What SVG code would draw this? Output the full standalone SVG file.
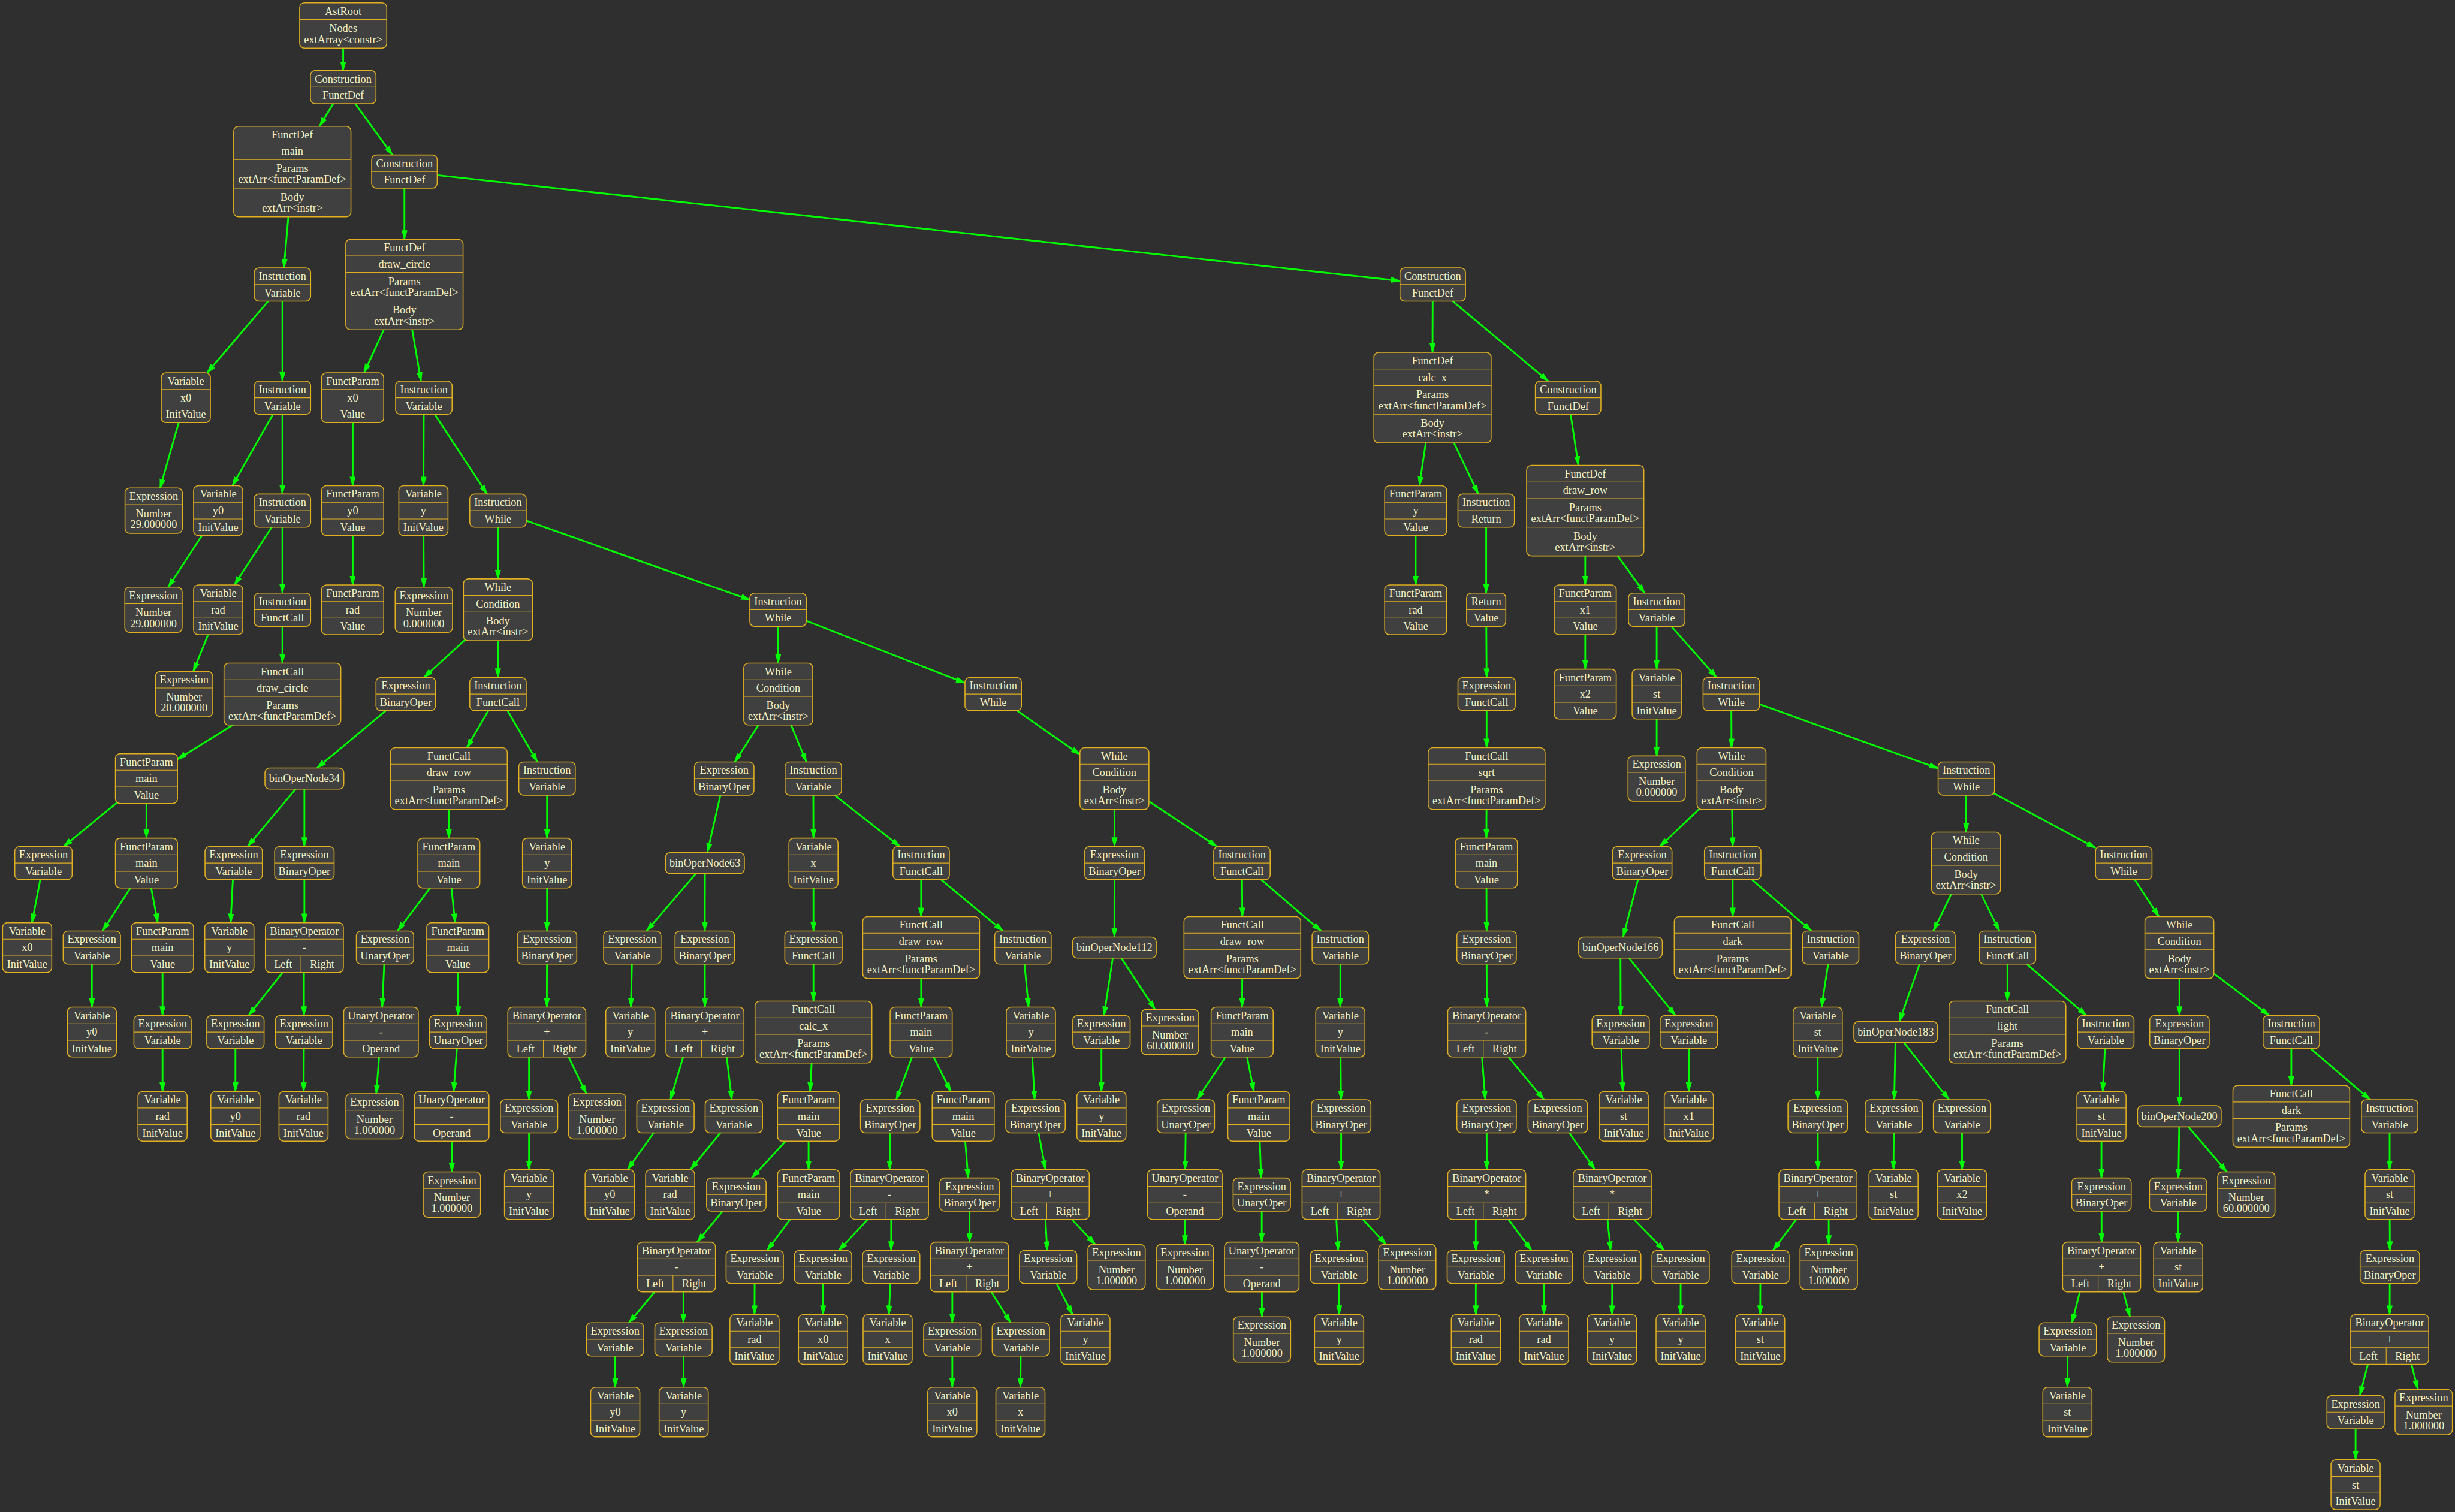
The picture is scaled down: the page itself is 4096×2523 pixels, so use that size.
<svg xmlns="http://www.w3.org/2000/svg" width="4096" height="2523" viewBox="0 0 4096 2523">
<style>
text{font-family:"Liberation Serif","Times New Roman",serif;font-size:25.5px;fill:#f3f1c4;text-anchor:middle}
#edges line{stroke:#00ff00;stroke-width:4;marker-end:url(#ah)}
</style>
<defs>
<marker id="ah" markerUnits="userSpaceOnUse" markerWidth="24" markerHeight="14" viewBox="0 0 24 14" refX="21" refY="7" orient="auto"><path d="M0 0L24 7L0 14z" fill="#00ff00"/></marker>
<g id="tI" fill="#404040" stroke="#e0b020" stroke-width="2.2"><rect x="-65.5" y="-38.5" width="131" height="77" rx="11"/><path d="M-65.5 0H65.5" stroke-width="1.5"/></g>
<g id="tE" fill="#404040" stroke="#e0b020" stroke-width="2.2"><rect x="-66.5" y="-38.5" width="133" height="77" rx="11"/><path d="M-66.5 0H66.5" stroke-width="1.5"/></g>
<g id="tB" fill="#404040" stroke="#e0b020" stroke-width="2.2"><rect x="-69" y="-38.5" width="138" height="77" rx="11"/><path d="M-69 0H69" stroke-width="1.5"/></g>
<g id="tC" fill="#404040" stroke="#e0b020" stroke-width="2.2"><rect x="-76" y="-38.5" width="152" height="77" rx="11"/><path d="M-76 0H76" stroke-width="1.5"/></g>
<g id="tR" fill="#404040" stroke="#e0b020" stroke-width="2.2"><rect x="-45.5" y="-38.5" width="91" height="77" rx="11"/><path d="M-45.5 0H45.5" stroke-width="1.5"/></g>
<g id="tV" fill="#404040" stroke="#e0b020" stroke-width="2.2"><rect x="-57" y="-57.75" width="114" height="115.5" rx="11"/><path d="M-57 -19.25H57M-57 19.25H57" stroke-width="1.5"/></g>
<g id="tP" fill="#404040" stroke="#e0b020" stroke-width="2.2"><rect x="-72" y="-57.75" width="144" height="115.5" rx="11"/><path d="M-72 -19.25H72M-72 19.25H72" stroke-width="1.5"/></g>
<g id="tN" fill="#404040" stroke="#e0b020" stroke-width="2.2"><rect x="-66.5" y="-52.5" width="133" height="105" rx="11"/><path d="M-66.5 -14H66.5" stroke-width="1.5"/></g>
<g id="tA" fill="#404040" stroke="#e0b020" stroke-width="2.2"><rect x="-101" y="-52.5" width="202" height="105" rx="11"/><path d="M-101 -14H101" stroke-width="1.5"/></g>
<g id="tD" fill="#404040" stroke="#e0b020" stroke-width="2.2"><rect x="-136" y="-105" width="272" height="210" rx="11"/><path d="M-136 -66.5H136M-136 -28H136M-136 38.5H136" stroke-width="1.5"/></g>
<g id="tF" fill="#404040" stroke="#e0b020" stroke-width="2.2"><rect x="-135.5" y="-71.75" width="271" height="143.5" rx="11"/><path d="M-135.5 -33.25H135.5M-135.5 5.25H135.5" stroke-width="1.5"/></g>
<g id="tW" fill="#404040" stroke="#e0b020" stroke-width="2.2"><rect x="-80" y="-71.75" width="160" height="143.5" rx="11"/><path d="M-80 -33.25H80M-80 5.25H80" stroke-width="1.5"/></g>
<g id="tO" fill="#404040" stroke="#e0b020" stroke-width="2.2"><rect x="-90.5" y="-57.75" width="181" height="115.5" rx="11"/><path d="M-90.5 -19.25H90.5M-90.5 19.25H90.5M-8 19.25V57.75" stroke-width="1.5"/></g>
<g id="tU" fill="#404040" stroke="#e0b020" stroke-width="2.2"><rect x="-86.5" y="-57.75" width="173" height="115.5" rx="11"/><path d="M-86.5 -19.25H86.5M-86.5 19.25H86.5" stroke-width="1.5"/></g>
<g id="tX" fill="#404040" stroke="#e0b020" stroke-width="2.2"><rect x="-91.5" y="-24.5" width="183" height="49" rx="11"/></g>
<g id="tY" fill="#404040" stroke="#e0b020" stroke-width="2.2"><rect x="-97" y="-24.5" width="194" height="49" rx="11"/></g>
</defs>
<rect width="4096" height="2523" fill="#2f2f2f"/>
<g transform="scale(0.71935)">
<g id="edges">
<line x1="796" y1="59" x2="796" y2="163.5"/>
<line x1="796" y1="202" x2="741.2" y2="293"/>
<line x1="796" y1="202" x2="910.1" y2="359.5"/>
<line x1="678" y1="398" x2="658.4" y2="621.5"/>
<line x1="938" y1="398" x2="938" y2="555"/>
<line x1="938" y1="398" x2="3247" y2="651.6"/>
<line x1="655" y1="660" x2="480.3" y2="864.75"/>
<line x1="655" y1="660" x2="655" y2="884"/>
<line x1="938" y1="660" x2="844.4" y2="864.75"/>
<line x1="938" y1="660" x2="976.4" y2="884"/>
<line x1="3323" y1="660" x2="3322.5" y2="817.5"/>
<line x1="3323" y1="660" x2="3591" y2="884"/>
<line x1="431" y1="922.5" x2="371.4" y2="1132"/>
<line x1="655" y1="922.5" x2="538.8" y2="1126.75"/>
<line x1="655" y1="922.5" x2="655" y2="1146"/>
<line x1="818" y1="922.5" x2="818" y2="1126.75"/>
<line x1="983" y1="922.5" x2="982.2" y2="1126.75"/>
<line x1="983" y1="922.5" x2="1129.7" y2="1146"/>
<line x1="3322.5" y1="922.5" x2="3292.1" y2="1126.75"/>
<line x1="3322.5" y1="922.5" x2="3428.7" y2="1146"/>
<line x1="3637" y1="922.5" x2="3660.8" y2="1079.5"/>
<line x1="506" y1="1184.5" x2="390.2" y2="1362"/>
<line x1="655" y1="1184.5" x2="543.4" y2="1356.75"/>
<line x1="655" y1="1184.5" x2="655" y2="1376"/>
<line x1="818" y1="1184.5" x2="818" y2="1356.75"/>
<line x1="982" y1="1184.5" x2="983" y2="1362"/>
<line x1="1155" y1="1184.5" x2="1155" y2="1342.75"/>
<line x1="1155" y1="1184.5" x2="1739" y2="1391.3"/>
<line x1="3283.5" y1="1184.5" x2="3283.5" y2="1356.75"/>
<line x1="3447" y1="1184.5" x2="3447" y2="1376"/>
<line x1="3676.7" y1="1184.5" x2="3676.7" y2="1356.75"/>
<line x1="3676.7" y1="1184.5" x2="3814.7" y2="1376"/>
<line x1="506" y1="1414.5" x2="448.2" y2="1557.5"/>
<line x1="655" y1="1414.5" x2="655" y2="1538.25"/>
<line x1="1155" y1="1414.5" x2="983.1" y2="1571.5"/>
<line x1="1155" y1="1414.5" x2="1155" y2="1571.5"/>
<line x1="1804.5" y1="1414.5" x2="1805" y2="1538.25"/>
<line x1="1804.5" y1="1414.5" x2="2238.1" y2="1584.3"/>
<line x1="3447" y1="1414.5" x2="3448" y2="1571.5"/>
<line x1="3676.7" y1="1414.5" x2="3676.7" y2="1552.25"/>
<line x1="3842.5" y1="1414.5" x2="3842.5" y2="1552.25"/>
<line x1="3842.5" y1="1414.5" x2="3981.4" y2="1571.5"/>
<line x1="655" y1="1610" x2="411.7" y2="1761.2"/>
<line x1="941" y1="1610" x2="735.4" y2="1781.5"/>
<line x1="1155" y1="1610" x2="1082.7" y2="1734.25"/>
<line x1="1155" y1="1610" x2="1246.4" y2="1767.5"/>
<line x1="1805" y1="1610" x2="1704.3" y2="1767.5"/>
<line x1="1805" y1="1610" x2="1870.3" y2="1767.5"/>
<line x1="2303.6" y1="1610" x2="2504.7" y2="1750.2"/>
<line x1="3448" y1="1610" x2="3448" y2="1734.25"/>
<line x1="3842.5" y1="1610" x2="3842.5" y2="1753.5"/>
<line x1="4015.5" y1="1610" x2="4016" y2="1734.25"/>
<line x1="4015.5" y1="1610" x2="4495.1" y2="1782.4"/>
<line x1="339.7" y1="1806" x2="147.7" y2="1963.5"/>
<line x1="339.7" y1="1806" x2="339.7" y2="1944.25"/>
<line x1="706" y1="1806" x2="574.2" y2="1963.5"/>
<line x1="706" y1="1806" x2="706" y2="1963.5"/>
<line x1="1041" y1="1806" x2="1041" y2="1944.25"/>
<line x1="1268.8" y1="1806" x2="1268.8" y2="1944.25"/>
<line x1="1679.7" y1="1806" x2="1640.6" y2="1977.5"/>
<line x1="1886.3" y1="1806" x2="1886.7" y2="1944.25"/>
<line x1="1886.3" y1="1806" x2="2087.4" y2="1963.5"/>
<line x1="2584.7" y1="1806" x2="2585" y2="1963.5"/>
<line x1="2584.7" y1="1806" x2="2822.4" y2="1963.5"/>
<line x1="3448" y1="1806" x2="3447.5" y2="1944.25"/>
<line x1="4016" y1="1806" x2="3849.7" y2="1963.5"/>
<line x1="4016" y1="1806" x2="4018.7" y2="1963.5"/>
<line x1="4560.6" y1="1806" x2="4560" y2="1930.25"/>
<line x1="4560.6" y1="1806" x2="4860.2" y2="1966.8"/>
<line x1="100.8" y1="2002" x2="74.1" y2="2140.25"/>
<line x1="339.7" y1="2002" x2="237.9" y2="2159.5"/>
<line x1="339.7" y1="2002" x2="366" y2="2140.25"/>
<line x1="542" y1="2002" x2="534.9" y2="2140.25"/>
<line x1="706" y1="2002" x2="706" y2="2140.25"/>
<line x1="1041" y1="2002" x2="922.1" y2="2159.5"/>
<line x1="1041" y1="2002" x2="1055.6" y2="2140.25"/>
<line x1="1268.8" y1="2002" x2="1268.8" y2="2159.5"/>
<line x1="1635" y1="2002" x2="1499.6" y2="2159.5"/>
<line x1="1635" y1="2002" x2="1634.7" y2="2159.5"/>
<line x1="1886.7" y1="2002" x2="1886.7" y2="2159.5"/>
<line x1="2136.5" y1="2002" x2="2136.5" y2="2126.25"/>
<line x1="2136.5" y1="2002" x2="2326.2" y2="2159.5"/>
<line x1="2585" y1="2002" x2="2584.7" y2="2173.5"/>
<line x1="2880.5" y1="2002" x2="2881.5" y2="2126.25"/>
<line x1="2880.5" y1="2002" x2="3063.9" y2="2159.5"/>
<line x1="3447.5" y1="2002" x2="3448" y2="2159.5"/>
<line x1="3809" y1="2002" x2="3764.8" y2="2173.5"/>
<line x1="4018.7" y1="2002" x2="4018.7" y2="2126.25"/>
<line x1="4018.7" y1="2002" x2="4201.4" y2="2159.5"/>
<line x1="4560" y1="2002" x2="4484.2" y2="2159.5"/>
<line x1="4560" y1="2002" x2="4637.1" y2="2159.5"/>
<line x1="4925.7" y1="2002" x2="5007.5" y2="2126.25"/>
<line x1="213" y1="2198" x2="213" y2="2336.25"/>
<line x1="377" y1="2198" x2="377" y2="2355.5"/>
<line x1="655.5" y1="2255.75" x2="576.5" y2="2355.5"/>
<line x1="705" y1="2255.75" x2="705" y2="2355.5"/>
<line x1="893" y1="2198" x2="886.4" y2="2336.25"/>
<line x1="1061.7" y1="2198" x2="1062.6" y2="2355.5"/>
<line x1="1268.8" y1="2198" x2="1268.3" y2="2336.25"/>
<line x1="1466.5" y1="2198" x2="1463.3" y2="2336.25"/>
<line x1="1634.7" y1="2198" x2="1635" y2="2336.25"/>
<line x1="1886.7" y1="2198" x2="1886.7" y2="2322.25"/>
<line x1="2136.5" y1="2198" x2="2136.5" y2="2336.25"/>
<line x1="2372.6" y1="2198" x2="2385.6" y2="2336.25"/>
<line x1="2584.7" y1="2198" x2="2560.6" y2="2355.5"/>
<line x1="2584.7" y1="2198" x2="2679.1" y2="2341.5"/>
<line x1="2881.5" y1="2198" x2="2881" y2="2336.25"/>
<line x1="3108.7" y1="2198" x2="3108.7" y2="2336.25"/>
<line x1="3448" y1="2198" x2="3448.3" y2="2336.25"/>
<line x1="3758.5" y1="2198" x2="3759" y2="2355.5"/>
<line x1="3758.5" y1="2198" x2="3885.9" y2="2355.5"/>
<line x1="4246" y1="2198" x2="4224.8" y2="2336.25"/>
<line x1="4465.7" y1="2198" x2="4405.3" y2="2369.5"/>
<line x1="4656" y1="2198" x2="4656" y2="2322.25"/>
<line x1="4656" y1="2198" x2="4839.2" y2="2355.5"/>
<line x1="5054.7" y1="2198" x2="5055" y2="2355.5"/>
<line x1="5054.7" y1="2198" x2="5263.4" y2="2355.5"/>
<line x1="377" y1="2394" x2="377" y2="2531.75"/>
<line x1="546" y1="2394" x2="546" y2="2531.75"/>
<line x1="705" y1="2394" x2="704.3" y2="2531.75"/>
<line x1="883.7" y1="2394" x2="872.7" y2="2537"/>
<line x1="1062.6" y1="2394" x2="1052" y2="2531.75"/>
<line x1="1227" y1="2451.75" x2="1227" y2="2551"/>
<line x1="1318.8" y1="2451.75" x2="1359.8" y2="2537"/>
<line x1="1584.5" y1="2451.75" x2="1554.9" y2="2551"/>
<line x1="1685.5" y1="2451.75" x2="1697.4" y2="2551"/>
<line x1="1886.7" y1="2394" x2="1878.7" y2="2531.75"/>
<line x1="2136.5" y1="2394" x2="2078.8" y2="2551"/>
<line x1="2136.5" y1="2394" x2="2205.2" y2="2531.75"/>
<line x1="2391" y1="2394" x2="2399.6" y2="2551"/>
<line x1="2554.7" y1="2394" x2="2554.7" y2="2531.75"/>
<line x1="2881" y1="2394" x2="2776.1" y2="2551"/>
<line x1="2881" y1="2394" x2="2908.3" y2="2531.75"/>
<line x1="3108.7" y1="2394" x2="3110.3" y2="2551"/>
<line x1="3437.3" y1="2451.75" x2="3445" y2="2551"/>
<line x1="3498.8" y1="2451.75" x2="3581.1" y2="2551"/>
<line x1="3759" y1="2394" x2="3763.9" y2="2531.75"/>
<line x1="3917" y1="2394" x2="3917" y2="2531.75"/>
<line x1="4216" y1="2394" x2="4216" y2="2551"/>
<line x1="4396.7" y1="2394" x2="4393.4" y2="2551"/>
<line x1="4396.7" y1="2394" x2="4520.3" y2="2551"/>
<line x1="4884" y1="2394" x2="4877" y2="2531.75"/>
<line x1="5055" y1="2394" x2="5055" y2="2565"/>
<line x1="5314.4" y1="2394" x2="5314.4" y2="2517.75"/>
<line x1="5314.4" y1="2394" x2="5497.6" y2="2551"/>
<line x1="1047.6" y1="2589.5" x2="1048" y2="2718.5"/>
<line x1="1227" y1="2589.5" x2="1227" y2="2713.25"/>
<line x1="1543.4" y1="2589.5" x2="1455.2" y2="2713.25"/>
<line x1="1702" y1="2589.5" x2="1601.3" y2="2713.25"/>
<line x1="1875.4" y1="2589.5" x2="1743.4" y2="2732.5"/>
<line x1="1875.4" y1="2589.5" x2="1875.4" y2="2713.25"/>
<line x1="2064.7" y1="2589.5" x2="2063.5" y2="2713.25"/>
<line x1="2234" y1="2589.5" x2="2245.6" y2="2732.5"/>
<line x1="2401.7" y1="2589.5" x2="2424.9" y2="2713.25"/>
<line x1="2750.4" y1="2589.5" x2="2748.9" y2="2713.25"/>
<line x1="2919.7" y1="2589.5" x2="2925.1" y2="2732.5"/>
<line x1="3110.7" y1="2589.5" x2="3110.5" y2="2713.25"/>
<line x1="3448" y1="2589.5" x2="3448.3" y2="2713.25"/>
<line x1="3613" y1="2589.5" x2="3699.2" y2="2713.25"/>
<line x1="4216" y1="2589.5" x2="4216.5" y2="2713.25"/>
<line x1="4392.6" y1="2589.5" x2="4391.7" y2="2713.25"/>
<line x1="4550.6" y1="2589.5" x2="4550.6" y2="2713.25"/>
<line x1="4874" y1="2589.5" x2="4874" y2="2732.5"/>
<line x1="5054.7" y1="2589.5" x2="5052.6" y2="2732.5"/>
<line x1="5054.7" y1="2589.5" x2="5165.1" y2="2718.5"/>
<line x1="5542.5" y1="2589.5" x2="5542.5" y2="2713.25"/>
<line x1="1707.8" y1="2771" x2="1616.6" y2="2881.25"/>
<line x1="1875.4" y1="2771" x2="1779.1" y2="2900.5"/>
<line x1="2012.5" y1="2828.75" x2="1945.1" y2="2900.5"/>
<line x1="2067" y1="2828.75" x2="2067" y2="2900.5"/>
<line x1="2248.7" y1="2771" x2="2248.7" y2="2881.25"/>
<line x1="2424.8" y1="2828.75" x2="2428.8" y2="2900.5"/>
<line x1="2486.3" y1="2828.75" x2="2540.5" y2="2886.5"/>
<line x1="2748.2" y1="2771" x2="2748.2" y2="2886.5"/>
<line x1="2926.6" y1="2771" x2="2926.5" y2="2881.25"/>
<line x1="3099.5" y1="2828.75" x2="3103.7" y2="2900.5"/>
<line x1="3161" y1="2828.75" x2="3215" y2="2886.5"/>
<line x1="3423" y1="2828.75" x2="3423" y2="2900.5"/>
<line x1="3498.8" y1="2828.75" x2="3552.3" y2="2900.5"/>
<line x1="3728.4" y1="2828.75" x2="3735.6" y2="2900.5"/>
<line x1="3789.9" y1="2828.75" x2="3860.3" y2="2900.5"/>
<line x1="4166" y1="2828.75" x2="4112" y2="2900.5"/>
<line x1="4241.5" y1="2828.75" x2="4241.5" y2="2886.5"/>
<line x1="4874" y1="2771" x2="4874.4" y2="2881.25"/>
<line x1="5052" y1="2771" x2="5052" y2="2881.25"/>
<line x1="5542.5" y1="2771" x2="5543" y2="2900.5"/>
<line x1="1518.4" y1="2996.75" x2="1458.6" y2="3068.5"/>
<line x1="1585.2" y1="2996.75" x2="1585.2" y2="3068.5"/>
<line x1="1750.5" y1="2939" x2="1750" y2="3049.25"/>
<line x1="1909" y1="2939" x2="1909" y2="3049.25"/>
<line x1="2067" y1="2939" x2="2061.6" y2="3049.25"/>
<line x1="2208.7" y1="2996.75" x2="2208.7" y2="3068.5"/>
<line x1="2299.2" y1="2996.75" x2="2343.8" y2="3068.5"/>
<line x1="2431" y1="2939" x2="2487.8" y2="3049.25"/>
<line x1="2926.5" y1="2939" x2="2927" y2="3054.5"/>
<line x1="3106" y1="2939" x2="3106" y2="3049.25"/>
<line x1="3423" y1="2939" x2="3423" y2="3049.25"/>
<line x1="3581" y1="2939" x2="3581" y2="3049.25"/>
<line x1="3739.4" y1="2939" x2="3739" y2="3049.25"/>
<line x1="3898" y1="2939" x2="3898" y2="3049.25"/>
<line x1="4083" y1="2939" x2="4082.5" y2="3049.25"/>
<line x1="4823.9" y1="2996.75" x2="4805.7" y2="3068.5"/>
<line x1="4924.9" y1="2996.75" x2="4940.1" y2="3054.5"/>
<line x1="5543" y1="2939" x2="5542.5" y2="3049.25"/>
<line x1="1426.5" y1="3107" x2="1427" y2="3217.75"/>
<line x1="1585.2" y1="3107" x2="1585.7" y2="3217.75"/>
<line x1="2208.7" y1="3107" x2="2208.7" y2="3217.75"/>
<line x1="2367.7" y1="3107" x2="2366.7" y2="3217.75"/>
<line x1="4795.9" y1="3107" x2="4795" y2="3217.75"/>
<line x1="5492" y1="3164.75" x2="5473.3" y2="3237"/>
<line x1="5593" y1="3164.75" x2="5608" y2="3223"/>
<line x1="5463.4" y1="3275.5" x2="5463.4" y2="3386.25"/>
</g>
<g id="n0" transform="translate(796,59)"><use href="#tA"/><text y="-24.75">AstRoot</text><text y="15">Nodes</text><text y="40.5">extArray&lt;constr&gt;</text></g>
<g id="n1" transform="translate(796,202)"><use href="#tC"/><text y="-10.75">Construction</text><text y="27.75">FunctDef</text></g>
<g id="n2" transform="translate(678,398)"><use href="#tD"/><text y="-77.25">FunctDef</text><text y="-38.75">main</text><text y="1">Params</text><text y="26.5">extArr&lt;functParamDef&gt;</text><text y="67.5">Body</text><text y="93">extArr&lt;instr&gt;</text></g>
<g id="n3" transform="translate(938,398)"><use href="#tC"/><text y="-10.75">Construction</text><text y="27.75">FunctDef</text></g>
<g id="n4" transform="translate(655,660)"><use href="#tI"/><text y="-10.75">Instruction</text><text y="27.75">Variable</text></g>
<g id="n5" transform="translate(938,660)"><use href="#tD"/><text y="-77.25">FunctDef</text><text y="-38.75">draw_circle</text><text y="1">Params</text><text y="26.5">extArr&lt;functParamDef&gt;</text><text y="67.5">Body</text><text y="93">extArr&lt;instr&gt;</text></g>
<g id="n6" transform="translate(3323,660)"><use href="#tC"/><text y="-10.75">Construction</text><text y="27.75">FunctDef</text></g>
<g id="n7" transform="translate(431,922.5)"><use href="#tV"/><text y="-30">Variable</text><text y="8.5">x0</text><text y="47">InitValue</text></g>
<g id="n8" transform="translate(655,922.5)"><use href="#tI"/><text y="-10.75">Instruction</text><text y="27.75">Variable</text></g>
<g id="n9" transform="translate(818,922.5)"><use href="#tP"/><text y="-30">FunctParam</text><text y="8.5">x0</text><text y="47">Value</text></g>
<g id="n10" transform="translate(983,922.5)"><use href="#tI"/><text y="-10.75">Instruction</text><text y="27.75">Variable</text></g>
<g id="n11" transform="translate(3322.5,922.5)"><use href="#tD"/><text y="-77.25">FunctDef</text><text y="-38.75">calc_x</text><text y="1">Params</text><text y="26.5">extArr&lt;functParamDef&gt;</text><text y="67.5">Body</text><text y="93">extArr&lt;instr&gt;</text></g>
<g id="n12" transform="translate(3637,922.5)"><use href="#tC"/><text y="-10.75">Construction</text><text y="27.75">FunctDef</text></g>
<g id="n13" transform="translate(356.5,1184.5)"><use href="#tN"/><text y="-24.75">Expression</text><text y="15">Number</text><text y="40.5">29.000000</text></g>
<g id="n14" transform="translate(506,1184.5)"><use href="#tV"/><text y="-30">Variable</text><text y="8.5">y0</text><text y="47">InitValue</text></g>
<g id="n15" transform="translate(655,1184.5)"><use href="#tI"/><text y="-10.75">Instruction</text><text y="27.75">Variable</text></g>
<g id="n16" transform="translate(818,1184.5)"><use href="#tP"/><text y="-30">FunctParam</text><text y="8.5">y0</text><text y="47">Value</text></g>
<g id="n17" transform="translate(982,1184.5)"><use href="#tV"/><text y="-30">Variable</text><text y="8.5">y</text><text y="47">InitValue</text></g>
<g id="n18" transform="translate(1155,1184.5)"><use href="#tI"/><text y="-10.75">Instruction</text><text y="27.75">While</text></g>
<g id="n19" transform="translate(3283.5,1184.5)"><use href="#tP"/><text y="-30">FunctParam</text><text y="8.5">y</text><text y="47">Value</text></g>
<g id="n20" transform="translate(3447,1184.5)"><use href="#tI"/><text y="-10.75">Instruction</text><text y="27.75">Return</text></g>
<g id="n21" transform="translate(3676.7,1184.5)"><use href="#tD"/><text y="-77.25">FunctDef</text><text y="-38.75">draw_row</text><text y="1">Params</text><text y="26.5">extArr&lt;functParamDef&gt;</text><text y="67.5">Body</text><text y="93">extArr&lt;instr&gt;</text></g>
<g id="n22" transform="translate(356,1414.5)"><use href="#tN"/><text y="-24.75">Expression</text><text y="15">Number</text><text y="40.5">29.000000</text></g>
<g id="n23" transform="translate(506,1414.5)"><use href="#tV"/><text y="-30">Variable</text><text y="8.5">rad</text><text y="47">InitValue</text></g>
<g id="n24" transform="translate(655,1414.5)"><use href="#tI"/><text y="-10.75">Instruction</text><text y="27.75">FunctCall</text></g>
<g id="n25" transform="translate(818,1414.5)"><use href="#tP"/><text y="-30">FunctParam</text><text y="8.5">rad</text><text y="47">Value</text></g>
<g id="n26" transform="translate(983,1414.5)"><use href="#tN"/><text y="-24.75">Expression</text><text y="15">Number</text><text y="40.5">0.000000</text></g>
<g id="n27" transform="translate(1155,1414.5)"><use href="#tW"/><text y="-44">While</text><text y="-5.5">Condition</text><text y="34.25">Body</text><text y="59.75">extArr&lt;instr&gt;</text></g>
<g id="n28" transform="translate(1804.5,1414.5)"><use href="#tI"/><text y="-10.75">Instruction</text><text y="27.75">While</text></g>
<g id="n29" transform="translate(3283.5,1414.5)"><use href="#tP"/><text y="-30">FunctParam</text><text y="8.5">rad</text><text y="47">Value</text></g>
<g id="n30" transform="translate(3447,1414.5)"><use href="#tR"/><text y="-10.75">Return</text><text y="27.75">Value</text></g>
<g id="n31" transform="translate(3676.7,1414.5)"><use href="#tP"/><text y="-30">FunctParam</text><text y="8.5">x1</text><text y="47">Value</text></g>
<g id="n32" transform="translate(3842.5,1414.5)"><use href="#tI"/><text y="-10.75">Instruction</text><text y="27.75">Variable</text></g>
<g id="n33" transform="translate(427,1610)"><use href="#tN"/><text y="-24.75">Expression</text><text y="15">Number</text><text y="40.5">20.000000</text></g>
<g id="n34" transform="translate(655,1610)"><use href="#tF"/><text y="-44">FunctCall</text><text y="-5.5">draw_circle</text><text y="34.25">Params</text><text y="59.75">extArr&lt;functParamDef&gt;</text></g>
<g id="n35" transform="translate(941,1610)"><use href="#tB"/><text y="-10.75">Expression</text><text y="27.75">BinaryOper</text></g>
<g id="n36" transform="translate(1155,1610)"><use href="#tI"/><text y="-10.75">Instruction</text><text y="27.75">FunctCall</text></g>
<g id="n37" transform="translate(1805,1610)"><use href="#tW"/><text y="-44">While</text><text y="-5.5">Condition</text><text y="34.25">Body</text><text y="59.75">extArr&lt;instr&gt;</text></g>
<g id="n38" transform="translate(2303.6,1610)"><use href="#tI"/><text y="-10.75">Instruction</text><text y="27.75">While</text></g>
<g id="n39" transform="translate(3448,1610)"><use href="#tE"/><text y="-10.75">Expression</text><text y="27.75">FunctCall</text></g>
<g id="n40" transform="translate(3676.7,1610)"><use href="#tP"/><text y="-30">FunctParam</text><text y="8.5">x2</text><text y="47">Value</text></g>
<g id="n41" transform="translate(3842.5,1610)"><use href="#tV"/><text y="-30">Variable</text><text y="8.5">st</text><text y="47">InitValue</text></g>
<g id="n42" transform="translate(4015.5,1610)"><use href="#tI"/><text y="-10.75">Instruction</text><text y="27.75">While</text></g>
<g id="n43" transform="translate(339.7,1806)"><use href="#tP"/><text y="-30">FunctParam</text><text y="8.5">main</text><text y="47">Value</text></g>
<g id="n44" transform="translate(706,1806)"><use href="#tX"/><text y="8.5">binOperNode34</text></g>
<g id="n45" transform="translate(1041,1806)"><use href="#tF"/><text y="-44">FunctCall</text><text y="-5.5">draw_row</text><text y="34.25">Params</text><text y="59.75">extArr&lt;functParamDef&gt;</text></g>
<g id="n46" transform="translate(1268.8,1806)"><use href="#tI"/><text y="-10.75">Instruction</text><text y="27.75">Variable</text></g>
<g id="n47" transform="translate(1679.7,1806)"><use href="#tB"/><text y="-10.75">Expression</text><text y="27.75">BinaryOper</text></g>
<g id="n48" transform="translate(1886.3,1806)"><use href="#tI"/><text y="-10.75">Instruction</text><text y="27.75">Variable</text></g>
<g id="n49" transform="translate(2584.7,1806)"><use href="#tW"/><text y="-44">While</text><text y="-5.5">Condition</text><text y="34.25">Body</text><text y="59.75">extArr&lt;instr&gt;</text></g>
<g id="n50" transform="translate(3448,1806)"><use href="#tF"/><text y="-44">FunctCall</text><text y="-5.5">sqrt</text><text y="34.25">Params</text><text y="59.75">extArr&lt;functParamDef&gt;</text></g>
<g id="n51" transform="translate(3842.5,1806)"><use href="#tN"/><text y="-24.75">Expression</text><text y="15">Number</text><text y="40.5">0.000000</text></g>
<g id="n52" transform="translate(4016,1806)"><use href="#tW"/><text y="-44">While</text><text y="-5.5">Condition</text><text y="34.25">Body</text><text y="59.75">extArr&lt;instr&gt;</text></g>
<g id="n53" transform="translate(4560.6,1806)"><use href="#tI"/><text y="-10.75">Instruction</text><text y="27.75">While</text></g>
<g id="n54" transform="translate(100.8,2002)"><use href="#tE"/><text y="-10.75">Expression</text><text y="27.75">Variable</text></g>
<g id="n55" transform="translate(339.7,2002)"><use href="#tP"/><text y="-30">FunctParam</text><text y="8.5">main</text><text y="47">Value</text></g>
<g id="n56" transform="translate(542,2002)"><use href="#tE"/><text y="-10.75">Expression</text><text y="27.75">Variable</text></g>
<g id="n57" transform="translate(706,2002)"><use href="#tB"/><text y="-10.75">Expression</text><text y="27.75">BinaryOper</text></g>
<g id="n58" transform="translate(1041,2002)"><use href="#tP"/><text y="-30">FunctParam</text><text y="8.5">main</text><text y="47">Value</text></g>
<g id="n59" transform="translate(1268.8,2002)"><use href="#tV"/><text y="-30">Variable</text><text y="8.5">y</text><text y="47">InitValue</text></g>
<g id="n60" transform="translate(1635,2002)"><use href="#tX"/><text y="8.5">binOperNode63</text></g>
<g id="n61" transform="translate(1886.7,2002)"><use href="#tV"/><text y="-30">Variable</text><text y="8.5">x</text><text y="47">InitValue</text></g>
<g id="n62" transform="translate(2136.5,2002)"><use href="#tI"/><text y="-10.75">Instruction</text><text y="27.75">FunctCall</text></g>
<g id="n63" transform="translate(2585,2002)"><use href="#tB"/><text y="-10.75">Expression</text><text y="27.75">BinaryOper</text></g>
<g id="n64" transform="translate(2880.5,2002)"><use href="#tI"/><text y="-10.75">Instruction</text><text y="27.75">FunctCall</text></g>
<g id="n65" transform="translate(3447.5,2002)"><use href="#tP"/><text y="-30">FunctParam</text><text y="8.5">main</text><text y="47">Value</text></g>
<g id="n66" transform="translate(3809,2002)"><use href="#tB"/><text y="-10.75">Expression</text><text y="27.75">BinaryOper</text></g>
<g id="n67" transform="translate(4018.7,2002)"><use href="#tI"/><text y="-10.75">Instruction</text><text y="27.75">FunctCall</text></g>
<g id="n68" transform="translate(4560,2002)"><use href="#tW"/><text y="-44">While</text><text y="-5.5">Condition</text><text y="34.25">Body</text><text y="59.75">extArr&lt;instr&gt;</text></g>
<g id="n69" transform="translate(4925.7,2002)"><use href="#tI"/><text y="-10.75">Instruction</text><text y="27.75">While</text></g>
<g id="n70" transform="translate(63,2198)"><use href="#tV"/><text y="-30">Variable</text><text y="8.5">x0</text><text y="47">InitValue</text></g>
<g id="n71" transform="translate(213,2198)"><use href="#tE"/><text y="-10.75">Expression</text><text y="27.75">Variable</text></g>
<g id="n72" transform="translate(377,2198)"><use href="#tP"/><text y="-30">FunctParam</text><text y="8.5">main</text><text y="47">Value</text></g>
<g id="n73" transform="translate(532,2198)"><use href="#tV"/><text y="-30">Variable</text><text y="8.5">y</text><text y="47">InitValue</text></g>
<g id="n74" transform="translate(706,2198)"><use href="#tO"/><text y="-30">BinaryOperator</text><text y="8.5">-</text><text x="-49.25" y="47">Left</text><text x="41.25" y="47">Right</text></g>
<g id="n75" transform="translate(893,2198)"><use href="#tE"/><text y="-10.75">Expression</text><text y="27.75">UnaryOper</text></g>
<g id="n76" transform="translate(1061.7,2198)"><use href="#tP"/><text y="-30">FunctParam</text><text y="8.5">main</text><text y="47">Value</text></g>
<g id="n77" transform="translate(1268.8,2198)"><use href="#tB"/><text y="-10.75">Expression</text><text y="27.75">BinaryOper</text></g>
<g id="n78" transform="translate(1466.5,2198)"><use href="#tE"/><text y="-10.75">Expression</text><text y="27.75">Variable</text></g>
<g id="n79" transform="translate(1634.7,2198)"><use href="#tB"/><text y="-10.75">Expression</text><text y="27.75">BinaryOper</text></g>
<g id="n80" transform="translate(1886.7,2198)"><use href="#tE"/><text y="-10.75">Expression</text><text y="27.75">FunctCall</text></g>
<g id="n81" transform="translate(2136.5,2198)"><use href="#tF"/><text y="-44">FunctCall</text><text y="-5.5">draw_row</text><text y="34.25">Params</text><text y="59.75">extArr&lt;functParamDef&gt;</text></g>
<g id="n82" transform="translate(2372.6,2198)"><use href="#tI"/><text y="-10.75">Instruction</text><text y="27.75">Variable</text></g>
<g id="n83" transform="translate(2584.7,2198)"><use href="#tY"/><text y="8.5">binOperNode112</text></g>
<g id="n84" transform="translate(2881.5,2198)"><use href="#tF"/><text y="-44">FunctCall</text><text y="-5.5">draw_row</text><text y="34.25">Params</text><text y="59.75">extArr&lt;functParamDef&gt;</text></g>
<g id="n85" transform="translate(3108.7,2198)"><use href="#tI"/><text y="-10.75">Instruction</text><text y="27.75">Variable</text></g>
<g id="n86" transform="translate(3448,2198)"><use href="#tB"/><text y="-10.75">Expression</text><text y="27.75">BinaryOper</text></g>
<g id="n87" transform="translate(3758.5,2198)"><use href="#tY"/><text y="8.5">binOperNode166</text></g>
<g id="n88" transform="translate(4018.7,2198)"><use href="#tF"/><text y="-44">FunctCall</text><text y="-5.5">dark</text><text y="34.25">Params</text><text y="59.75">extArr&lt;functParamDef&gt;</text></g>
<g id="n89" transform="translate(4246,2198)"><use href="#tI"/><text y="-10.75">Instruction</text><text y="27.75">Variable</text></g>
<g id="n90" transform="translate(4465.7,2198)"><use href="#tB"/><text y="-10.75">Expression</text><text y="27.75">BinaryOper</text></g>
<g id="n91" transform="translate(4656,2198)"><use href="#tI"/><text y="-10.75">Instruction</text><text y="27.75">FunctCall</text></g>
<g id="n92" transform="translate(5054.7,2198)"><use href="#tW"/><text y="-44">While</text><text y="-5.5">Condition</text><text y="34.25">Body</text><text y="59.75">extArr&lt;instr&gt;</text></g>
<g id="n93" transform="translate(213,2394)"><use href="#tV"/><text y="-30">Variable</text><text y="8.5">y0</text><text y="47">InitValue</text></g>
<g id="n94" transform="translate(377,2394)"><use href="#tE"/><text y="-10.75">Expression</text><text y="27.75">Variable</text></g>
<g id="n95" transform="translate(546,2394)"><use href="#tE"/><text y="-10.75">Expression</text><text y="27.75">Variable</text></g>
<g id="n96" transform="translate(705,2394)"><use href="#tE"/><text y="-10.75">Expression</text><text y="27.75">Variable</text></g>
<g id="n97" transform="translate(883.7,2394)"><use href="#tU"/><text y="-30">UnaryOperator</text><text y="8.5">-</text><text y="47">Operand</text></g>
<g id="n98" transform="translate(1062.6,2394)"><use href="#tE"/><text y="-10.75">Expression</text><text y="27.75">UnaryOper</text></g>
<g id="n99" transform="translate(1268.3,2394)"><use href="#tO"/><text y="-30">BinaryOperator</text><text y="8.5">+</text><text x="-49.25" y="47">Left</text><text x="41.25" y="47">Right</text></g>
<g id="n100" transform="translate(1462,2394)"><use href="#tV"/><text y="-30">Variable</text><text y="8.5">y</text><text y="47">InitValue</text></g>
<g id="n101" transform="translate(1635,2394)"><use href="#tO"/><text y="-30">BinaryOperator</text><text y="8.5">+</text><text x="-49.25" y="47">Left</text><text x="41.25" y="47">Right</text></g>
<g id="n102" transform="translate(1886.7,2394)"><use href="#tF"/><text y="-44">FunctCall</text><text y="-5.5">calc_x</text><text y="34.25">Params</text><text y="59.75">extArr&lt;functParamDef&gt;</text></g>
<g id="n103" transform="translate(2136.5,2394)"><use href="#tP"/><text y="-30">FunctParam</text><text y="8.5">main</text><text y="47">Value</text></g>
<g id="n104" transform="translate(2391,2394)"><use href="#tV"/><text y="-30">Variable</text><text y="8.5">y</text><text y="47">InitValue</text></g>
<g id="n105" transform="translate(2554.7,2394)"><use href="#tE"/><text y="-10.75">Expression</text><text y="27.75">Variable</text></g>
<g id="n106" transform="translate(2713.7,2394)"><use href="#tN"/><text y="-24.75">Expression</text><text y="15">Number</text><text y="40.5">60.000000</text></g>
<g id="n107" transform="translate(2881,2394)"><use href="#tP"/><text y="-30">FunctParam</text><text y="8.5">main</text><text y="47">Value</text></g>
<g id="n108" transform="translate(3108.7,2394)"><use href="#tV"/><text y="-30">Variable</text><text y="8.5">y</text><text y="47">InitValue</text></g>
<g id="n109" transform="translate(3448.3,2394)"><use href="#tO"/><text y="-30">BinaryOperator</text><text y="8.5">-</text><text x="-49.25" y="47">Left</text><text x="41.25" y="47">Right</text></g>
<g id="n110" transform="translate(3759,2394)"><use href="#tE"/><text y="-10.75">Expression</text><text y="27.75">Variable</text></g>
<g id="n111" transform="translate(3917,2394)"><use href="#tE"/><text y="-10.75">Expression</text><text y="27.75">Variable</text></g>
<g id="n112" transform="translate(4216,2394)"><use href="#tV"/><text y="-30">Variable</text><text y="8.5">st</text><text y="47">InitValue</text></g>
<g id="n113" transform="translate(4396.7,2394)"><use href="#tY"/><text y="8.5">binOperNode183</text></g>
<g id="n114" transform="translate(4656,2394)"><use href="#tF"/><text y="-44">FunctCall</text><text y="-5.5">light</text><text y="34.25">Params</text><text y="59.75">extArr&lt;functParamDef&gt;</text></g>
<g id="n115" transform="translate(4884,2394)"><use href="#tI"/><text y="-10.75">Instruction</text><text y="27.75">Variable</text></g>
<g id="n116" transform="translate(5055,2394)"><use href="#tB"/><text y="-10.75">Expression</text><text y="27.75">BinaryOper</text></g>
<g id="n117" transform="translate(5314.4,2394)"><use href="#tI"/><text y="-10.75">Instruction</text><text y="27.75">FunctCall</text></g>
<g id="n118" transform="translate(377,2589.5)"><use href="#tV"/><text y="-30">Variable</text><text y="8.5">rad</text><text y="47">InitValue</text></g>
<g id="n119" transform="translate(546,2589.5)"><use href="#tV"/><text y="-30">Variable</text><text y="8.5">y0</text><text y="47">InitValue</text></g>
<g id="n120" transform="translate(704,2589.5)"><use href="#tV"/><text y="-30">Variable</text><text y="8.5">rad</text><text y="47">InitValue</text></g>
<g id="n121" transform="translate(868.7,2589.5)"><use href="#tN"/><text y="-24.75">Expression</text><text y="15">Number</text><text y="40.5">1.000000</text></g>
<g id="n122" transform="translate(1047.6,2589.5)"><use href="#tU"/><text y="-30">UnaryOperator</text><text y="8.5">-</text><text y="47">Operand</text></g>
<g id="n123" transform="translate(1227,2589.5)"><use href="#tE"/><text y="-10.75">Expression</text><text y="27.75">Variable</text></g>
<g id="n124" transform="translate(1385,2589.5)"><use href="#tN"/><text y="-24.75">Expression</text><text y="15">Number</text><text y="40.5">1.000000</text></g>
<g id="n125" transform="translate(1543.4,2589.5)"><use href="#tE"/><text y="-10.75">Expression</text><text y="27.75">Variable</text></g>
<g id="n126" transform="translate(1702,2589.5)"><use href="#tE"/><text y="-10.75">Expression</text><text y="27.75">Variable</text></g>
<g id="n127" transform="translate(1875.4,2589.5)"><use href="#tP"/><text y="-30">FunctParam</text><text y="8.5">main</text><text y="47">Value</text></g>
<g id="n128" transform="translate(2064.7,2589.5)"><use href="#tB"/><text y="-10.75">Expression</text><text y="27.75">BinaryOper</text></g>
<g id="n129" transform="translate(2234,2589.5)"><use href="#tP"/><text y="-30">FunctParam</text><text y="8.5">main</text><text y="47">Value</text></g>
<g id="n130" transform="translate(2401.7,2589.5)"><use href="#tB"/><text y="-10.75">Expression</text><text y="27.75">BinaryOper</text></g>
<g id="n131" transform="translate(2554.7,2589.5)"><use href="#tV"/><text y="-30">Variable</text><text y="8.5">y</text><text y="47">InitValue</text></g>
<g id="n132" transform="translate(2750.4,2589.5)"><use href="#tE"/><text y="-10.75">Expression</text><text y="27.75">UnaryOper</text></g>
<g id="n133" transform="translate(2919.7,2589.5)"><use href="#tP"/><text y="-30">FunctParam</text><text y="8.5">main</text><text y="47">Value</text></g>
<g id="n134" transform="translate(3110.7,2589.5)"><use href="#tB"/><text y="-10.75">Expression</text><text y="27.75">BinaryOper</text></g>
<g id="n135" transform="translate(3448,2589.5)"><use href="#tB"/><text y="-10.75">Expression</text><text y="27.75">BinaryOper</text></g>
<g id="n136" transform="translate(3613,2589.5)"><use href="#tB"/><text y="-10.75">Expression</text><text y="27.75">BinaryOper</text></g>
<g id="n137" transform="translate(3766,2589.5)"><use href="#tV"/><text y="-30">Variable</text><text y="8.5">st</text><text y="47">InitValue</text></g>
<g id="n138" transform="translate(3917,2589.5)"><use href="#tV"/><text y="-30">Variable</text><text y="8.5">x1</text><text y="47">InitValue</text></g>
<g id="n139" transform="translate(4216,2589.5)"><use href="#tB"/><text y="-10.75">Expression</text><text y="27.75">BinaryOper</text></g>
<g id="n140" transform="translate(4392.6,2589.5)"><use href="#tE"/><text y="-10.75">Expression</text><text y="27.75">Variable</text></g>
<g id="n141" transform="translate(4550.6,2589.5)"><use href="#tE"/><text y="-10.75">Expression</text><text y="27.75">Variable</text></g>
<g id="n142" transform="translate(4874,2589.5)"><use href="#tV"/><text y="-30">Variable</text><text y="8.5">st</text><text y="47">InitValue</text></g>
<g id="n143" transform="translate(5054.7,2589.5)"><use href="#tY"/><text y="8.5">binOperNode200</text></g>
<g id="n144" transform="translate(5314.4,2589.5)"><use href="#tF"/><text y="-44">FunctCall</text><text y="-5.5">dark</text><text y="34.25">Params</text><text y="59.75">extArr&lt;functParamDef&gt;</text></g>
<g id="n145" transform="translate(5542.5,2589.5)"><use href="#tI"/><text y="-10.75">Instruction</text><text y="27.75">Variable</text></g>
<g id="n146" transform="translate(1048,2771)"><use href="#tN"/><text y="-24.75">Expression</text><text y="15">Number</text><text y="40.5">1.000000</text></g>
<g id="n147" transform="translate(1227,2771)"><use href="#tV"/><text y="-30">Variable</text><text y="8.5">y</text><text y="47">InitValue</text></g>
<g id="n148" transform="translate(1414,2771)"><use href="#tV"/><text y="-30">Variable</text><text y="8.5">y0</text><text y="47">InitValue</text></g>
<g id="n149" transform="translate(1554.3,2771)"><use href="#tV"/><text y="-30">Variable</text><text y="8.5">rad</text><text y="47">InitValue</text></g>
<g id="n150" transform="translate(1707.8,2771)"><use href="#tB"/><text y="-10.75">Expression</text><text y="27.75">BinaryOper</text></g>
<g id="n151" transform="translate(1875.4,2771)"><use href="#tP"/><text y="-30">FunctParam</text><text y="8.5">main</text><text y="47">Value</text></g>
<g id="n152" transform="translate(2063,2771)"><use href="#tO"/><text y="-30">BinaryOperator</text><text y="8.5">-</text><text x="-49.25" y="47">Left</text><text x="41.25" y="47">Right</text></g>
<g id="n153" transform="translate(2248.7,2771)"><use href="#tB"/><text y="-10.75">Expression</text><text y="27.75">BinaryOper</text></g>
<g id="n154" transform="translate(2435.8,2771)"><use href="#tO"/><text y="-30">BinaryOperator</text><text y="8.5">+</text><text x="-49.25" y="47">Left</text><text x="41.25" y="47">Right</text></g>
<g id="n155" transform="translate(2748.2,2771)"><use href="#tU"/><text y="-30">UnaryOperator</text><text y="8.5">-</text><text y="47">Operand</text></g>
<g id="n156" transform="translate(2926.6,2771)"><use href="#tE"/><text y="-10.75">Expression</text><text y="27.75">UnaryOper</text></g>
<g id="n157" transform="translate(3110.5,2771)"><use href="#tO"/><text y="-30">BinaryOperator</text><text y="8.5">+</text><text x="-49.25" y="47">Left</text><text x="41.25" y="47">Right</text></g>
<g id="n158" transform="translate(3448.3,2771)"><use href="#tO"/><text y="-30">BinaryOperator</text><text y="8.5">*</text><text x="-49.25" y="47">Left</text><text x="41.25" y="47">Right</text></g>
<g id="n159" transform="translate(3739.4,2771)"><use href="#tO"/><text y="-30">BinaryOperator</text><text y="8.5">*</text><text x="-49.25" y="47">Left</text><text x="41.25" y="47">Right</text></g>
<g id="n160" transform="translate(4216.5,2771)"><use href="#tO"/><text y="-30">BinaryOperator</text><text y="8.5">+</text><text x="-49.25" y="47">Left</text><text x="41.25" y="47">Right</text></g>
<g id="n161" transform="translate(4391.7,2771)"><use href="#tV"/><text y="-30">Variable</text><text y="8.5">st</text><text y="47">InitValue</text></g>
<g id="n162" transform="translate(4550.6,2771)"><use href="#tV"/><text y="-30">Variable</text><text y="8.5">x2</text><text y="47">InitValue</text></g>
<g id="n163" transform="translate(4874,2771)"><use href="#tB"/><text y="-10.75">Expression</text><text y="27.75">BinaryOper</text></g>
<g id="n164" transform="translate(5052,2771)"><use href="#tE"/><text y="-10.75">Expression</text><text y="27.75">Variable</text></g>
<g id="n165" transform="translate(5210,2771)"><use href="#tN"/><text y="-24.75">Expression</text><text y="15">Number</text><text y="40.5">60.000000</text></g>
<g id="n166" transform="translate(5542.5,2771)"><use href="#tV"/><text y="-30">Variable</text><text y="8.5">st</text><text y="47">InitValue</text></g>
<g id="n167" transform="translate(1568.9,2939)"><use href="#tO"/><text y="-30">BinaryOperator</text><text y="8.5">-</text><text x="-49.25" y="47">Left</text><text x="41.25" y="47">Right</text></g>
<g id="n168" transform="translate(1750.5,2939)"><use href="#tE"/><text y="-10.75">Expression</text><text y="27.75">Variable</text></g>
<g id="n169" transform="translate(1909,2939)"><use href="#tE"/><text y="-10.75">Expression</text><text y="27.75">Variable</text></g>
<g id="n170" transform="translate(2067,2939)"><use href="#tE"/><text y="-10.75">Expression</text><text y="27.75">Variable</text></g>
<g id="n171" transform="translate(2248.7,2939)"><use href="#tO"/><text y="-30">BinaryOperator</text><text y="8.5">+</text><text x="-49.25" y="47">Left</text><text x="41.25" y="47">Right</text></g>
<g id="n172" transform="translate(2431,2939)"><use href="#tE"/><text y="-10.75">Expression</text><text y="27.75">Variable</text></g>
<g id="n173" transform="translate(2589.7,2939)"><use href="#tN"/><text y="-24.75">Expression</text><text y="15">Number</text><text y="40.5">1.000000</text></g>
<g id="n174" transform="translate(2748.2,2939)"><use href="#tN"/><text y="-24.75">Expression</text><text y="15">Number</text><text y="40.5">1.000000</text></g>
<g id="n175" transform="translate(2926.5,2939)"><use href="#tU"/><text y="-30">UnaryOperator</text><text y="8.5">-</text><text y="47">Operand</text></g>
<g id="n176" transform="translate(3106,2939)"><use href="#tE"/><text y="-10.75">Expression</text><text y="27.75">Variable</text></g>
<g id="n177" transform="translate(3264,2939)"><use href="#tN"/><text y="-24.75">Expression</text><text y="15">Number</text><text y="40.5">1.000000</text></g>
<g id="n178" transform="translate(3423,2939)"><use href="#tE"/><text y="-10.75">Expression</text><text y="27.75">Variable</text></g>
<g id="n179" transform="translate(3581,2939)"><use href="#tE"/><text y="-10.75">Expression</text><text y="27.75">Variable</text></g>
<g id="n180" transform="translate(3739.4,2939)"><use href="#tE"/><text y="-10.75">Expression</text><text y="27.75">Variable</text></g>
<g id="n181" transform="translate(3898,2939)"><use href="#tE"/><text y="-10.75">Expression</text><text y="27.75">Variable</text></g>
<g id="n182" transform="translate(4083,2939)"><use href="#tE"/><text y="-10.75">Expression</text><text y="27.75">Variable</text></g>
<g id="n183" transform="translate(4241.5,2939)"><use href="#tN"/><text y="-24.75">Expression</text><text y="15">Number</text><text y="40.5">1.000000</text></g>
<g id="n184" transform="translate(4874.4,2939)"><use href="#tO"/><text y="-30">BinaryOperator</text><text y="8.5">+</text><text x="-49.25" y="47">Left</text><text x="41.25" y="47">Right</text></g>
<g id="n185" transform="translate(5052,2939)"><use href="#tV"/><text y="-30">Variable</text><text y="8.5">st</text><text y="47">InitValue</text></g>
<g id="n186" transform="translate(5543,2939)"><use href="#tB"/><text y="-10.75">Expression</text><text y="27.75">BinaryOper</text></g>
<g id="n187" transform="translate(1426.5,3107)"><use href="#tE"/><text y="-10.75">Expression</text><text y="27.75">Variable</text></g>
<g id="n188" transform="translate(1585.2,3107)"><use href="#tE"/><text y="-10.75">Expression</text><text y="27.75">Variable</text></g>
<g id="n189" transform="translate(1750,3107)"><use href="#tV"/><text y="-30">Variable</text><text y="8.5">rad</text><text y="47">InitValue</text></g>
<g id="n190" transform="translate(1909,3107)"><use href="#tV"/><text y="-30">Variable</text><text y="8.5">x0</text><text y="47">InitValue</text></g>
<g id="n191" transform="translate(2058.8,3107)"><use href="#tV"/><text y="-30">Variable</text><text y="8.5">x</text><text y="47">InitValue</text></g>
<g id="n192" transform="translate(2208.7,3107)"><use href="#tE"/><text y="-10.75">Expression</text><text y="27.75">Variable</text></g>
<g id="n193" transform="translate(2367.7,3107)"><use href="#tE"/><text y="-10.75">Expression</text><text y="27.75">Variable</text></g>
<g id="n194" transform="translate(2517.5,3107)"><use href="#tV"/><text y="-30">Variable</text><text y="8.5">y</text><text y="47">InitValue</text></g>
<g id="n195" transform="translate(2927,3107)"><use href="#tN"/><text y="-24.75">Expression</text><text y="15">Number</text><text y="40.5">1.000000</text></g>
<g id="n196" transform="translate(3106,3107)"><use href="#tV"/><text y="-30">Variable</text><text y="8.5">y</text><text y="47">InitValue</text></g>
<g id="n197" transform="translate(3423,3107)"><use href="#tV"/><text y="-30">Variable</text><text y="8.5">rad</text><text y="47">InitValue</text></g>
<g id="n198" transform="translate(3581,3107)"><use href="#tV"/><text y="-30">Variable</text><text y="8.5">rad</text><text y="47">InitValue</text></g>
<g id="n199" transform="translate(3739,3107)"><use href="#tV"/><text y="-30">Variable</text><text y="8.5">y</text><text y="47">InitValue</text></g>
<g id="n200" transform="translate(3898,3107)"><use href="#tV"/><text y="-30">Variable</text><text y="8.5">y</text><text y="47">InitValue</text></g>
<g id="n201" transform="translate(4082.5,3107)"><use href="#tV"/><text y="-30">Variable</text><text y="8.5">st</text><text y="47">InitValue</text></g>
<g id="n202" transform="translate(4795.9,3107)"><use href="#tE"/><text y="-10.75">Expression</text><text y="27.75">Variable</text></g>
<g id="n203" transform="translate(4954,3107)"><use href="#tN"/><text y="-24.75">Expression</text><text y="15">Number</text><text y="40.5">1.000000</text></g>
<g id="n204" transform="translate(5542.5,3107)"><use href="#tO"/><text y="-30">BinaryOperator</text><text y="8.5">+</text><text x="-49.25" y="47">Left</text><text x="41.25" y="47">Right</text></g>
<g id="n205" transform="translate(1427,3275.5)"><use href="#tV"/><text y="-30">Variable</text><text y="8.5">y0</text><text y="47">InitValue</text></g>
<g id="n206" transform="translate(1585.7,3275.5)"><use href="#tV"/><text y="-30">Variable</text><text y="8.5">y</text><text y="47">InitValue</text></g>
<g id="n207" transform="translate(2208.7,3275.5)"><use href="#tV"/><text y="-30">Variable</text><text y="8.5">x0</text><text y="47">InitValue</text></g>
<g id="n208" transform="translate(2366.7,3275.5)"><use href="#tV"/><text y="-30">Variable</text><text y="8.5">x</text><text y="47">InitValue</text></g>
<g id="n209" transform="translate(4795,3275.5)"><use href="#tV"/><text y="-30">Variable</text><text y="8.5">st</text><text y="47">InitValue</text></g>
<g id="n210" transform="translate(5463.4,3275.5)"><use href="#tE"/><text y="-10.75">Expression</text><text y="27.75">Variable</text></g>
<g id="n211" transform="translate(5621.5,3275.5)"><use href="#tN"/><text y="-24.75">Expression</text><text y="15">Number</text><text y="40.5">1.000000</text></g>
<g id="n212" transform="translate(5463.4,3444)"><use href="#tV"/><text y="-30">Variable</text><text y="8.5">st</text><text y="47">InitValue</text></g>
</g>
</svg>
